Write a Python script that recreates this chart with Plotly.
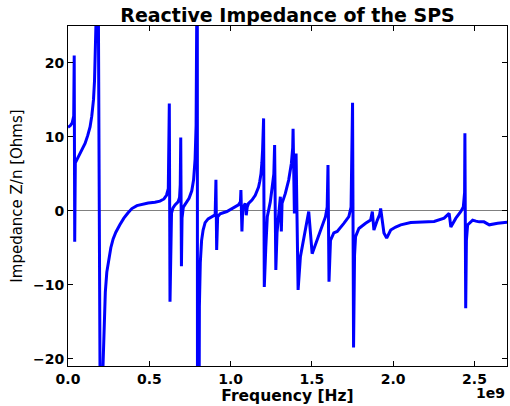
import plotly.graph_objects as go

# Frequency in GHz (axis shown in Hz with a 1e9 offset label) and reactive impedance Z/n in Ohms
freq_ghz = [
    0.0, 0.0136, 0.0259, 0.0352, 0.0382, 0.0413, 0.0450, 0.0537, 0.0740, 0.1049,
    0.1215, 0.1357, 0.1462, 0.1567, 0.1629, 0.1666, 0.1709, 0.1740, 0.1801, 0.2005,
    0.2048, 0.2153, 0.2221, 0.2295, 0.2387, 0.2511, 0.2634, 0.2776, 0.2943, 0.3189,
    0.3436, 0.3683, 0.3929, 0.4238, 0.4546, 0.4935, 0.5349, 0.5657, 0.5903, 0.6058,
    0.6169, 0.6231, 0.6274, 0.6311, 0.6367, 0.6459, 0.6582, 0.6768, 0.6860, 0.6903,
    0.6934, 0.6977, 0.7014, 0.7094, 0.7261, 0.7446, 0.7613, 0.7724, 0.7817, 0.7878,
    0.7915, 0.7940, 0.7977, 0.8032, 0.8081, 0.8137, 0.8217, 0.8310, 0.8433, 0.8618,
    0.8865, 0.9050, 0.9099, 0.9143, 0.9204, 0.9358, 0.9772, 1.0284, 1.0487, 1.0605,
    1.0635, 1.0697, 1.0747, 1.0808, 1.0901, 1.0962, 1.1024, 1.1104, 1.1314, 1.1518,
    1.1721, 1.1795, 1.1869, 1.1925, 1.1968, 1.2030, 1.2073, 1.2165, 1.2258, 1.2443,
    1.2548, 1.2659, 1.2708, 1.2782, 1.2856, 1.2998, 1.3060, 1.3121, 1.3165, 1.3368,
    1.3572, 1.3738, 1.3819, 1.3843, 1.3924, 1.4028, 1.4152, 1.4294, 1.4602, 1.4806,
    1.5016, 1.5324, 1.5632, 1.5836, 1.5941, 1.5990, 1.6052, 1.6096, 1.6144, 1.6348,
    1.6558, 1.6965, 1.7273, 1.7409, 1.7501, 1.7563, 1.7624, 1.7686, 1.7890, 1.8303,
    1.8612, 1.8717, 1.8815, 1.9025, 1.9167, 1.9229, 1.9432, 1.9599, 1.9845, 2.0154,
    2.0462, 2.1080, 2.1900, 2.2517, 2.3134, 2.3442, 2.3547, 2.3856, 2.4164, 2.4312,
    2.4392, 2.4411, 2.4460, 2.4503, 2.4578, 2.4886, 2.5089, 2.5293, 2.5583, 2.5910,
    2.6428, 2.7144,
]
impedance = [
    11.3, 11.5, 11.9, 12.8, 21.0, -4.2, 6.5, 6.85, 7.75, 9.1,
    10.2, 11.35, 12.8, 15.0, 17.5, 20.4, 24.0, 27.0, 60.0, -25.0,
    -60.0, -21.0, -15.0, -11.0, -8.3, -6.3, -5.0, -3.8, -2.9, -1.9,
    -1.0, -0.3, 0.3, 0.7, 0.9, 1.05, 1.15, 1.3, 1.6, 2.1,
    3.0, 14.5, -12.3, -3.0, -0.3, 0.4, 0.8, 1.2, 1.8, 3.5,
    9.9, -7.5, -1.0, 0.5, 1.1, 1.7, 2.7, 4.2, 7.0, 11.5,
    25.5, 100.0, -100.0, -21.0, -13.0, -7.0, -4.0, -2.6, -1.6, -1.1,
    -0.75, -0.55, 4.2, -5.3, -0.8, -0.4, -0.1, 0.5, 0.8, 1.2,
    2.8, -2.8, 0.2, 0.6, 1.0, -0.6, 0.5, 1.0, 1.45, 2.1,
    3.2, 4.0, 5.0, 6.5, 8.2, 12.5, -10.3, -5.0, -0.8, 1.2,
    3.0, 5.0, 8.9, -8.0, -3.0, 0.5, 1.9, -2.8, 1.0, 2.35,
    4.15, 6.4, 8.5, 11.1, -0.35, 7.75, -10.7, -6.2, -2.6, -0.1,
    -5.8, -4.0, -2.2, -0.8, 0.5, 6.2, -9.6, -5.5, -4.0, -3.0,
    -2.8, -1.7, -0.8, 0.5, 14.6, -18.5, -6.0, -3.5, -2.4, -1.7,
    -1.26, -0.1, -2.6, -1.26, -0.5, 0.3, -3.0, -3.7, -2.6, -2.2,
    -1.9, -1.6, -1.5, -1.45, -1.0, -0.35, -2.2, -1.0, -0.1, 0.5,
    2.5, 10.5, -13.2, -4.0, -1.9, -1.26, -1.4, -1.5, -1.5, -1.9,
    -1.7, -1.5,
]
x_ticks_ghz = [0.0, 0.5, 1.0, 1.5, 2.0, 2.5]
x_tick_labels = ["0.0", "0.5", "1.0", "1.5", "2.0", "2.5"]
y_ticks = [-20, -10, 0, 10, 20]

freq_hz = [f * 1e9 for f in freq_ghz]

fig = go.Figure()
fig.add_trace(go.Scatter(
    x=freq_hz, y=impedance, mode="lines",
    line=dict(color="#0000ff", width=3),
    showlegend=False,
))

font_family = "DejaVu Sans"
axis_common = dict(
    showline=True, linecolor="black", linewidth=1, mirror="allticks",
    ticks="inside", ticklen=5, tickcolor="black", tickwidth=1,
    showgrid=False,
    tickfont=dict(family=font_family, size=14, color="black", weight="bold"),
)

fig.update_layout(
    width=510, height=406,
    margin=dict(l=68, r=3, t=26, b=40),
    paper_bgcolor="white", plot_bgcolor="white",
    title=dict(
        text="<b>Reactive Impedance of the SPS</b>",
        font=dict(family=font_family, size=19, color="black"),
        x=(68 + 507) / 2 / 510, xanchor="center",
        y=1 - 15 / 406, yanchor="middle",
    ),
    xaxis=dict(
        range=[0, 2.7e9],
        tickvals=[t * 1e9 for t in x_ticks_ghz], ticktext=x_tick_labels,
        title=dict(text="<b>Frequency [Hz]</b>", font=dict(family=font_family, size=15.5, color="black"), standoff=2),
        zeroline=False,
        **axis_common,
    ),
    yaxis=dict(
        range=[-21, 25],
        tickvals=y_ticks,
        title=dict(text="Impedance Z/n [Ohms]", font=dict(family=font_family, size=15, color="black"), standoff=6),
        zeroline=True, zerolinecolor="#808080", zerolinewidth=1,
        **axis_common,
    ),
    annotations=[dict(
        text="<b>1e9</b>", x=1.0, xref="paper", xanchor="right",
        y=-27 / 340, yref="paper", yanchor="middle", showarrow=False,
        font=dict(family=font_family, size=14, color="black"),
    )],
)

fig.write_html("out.html")
